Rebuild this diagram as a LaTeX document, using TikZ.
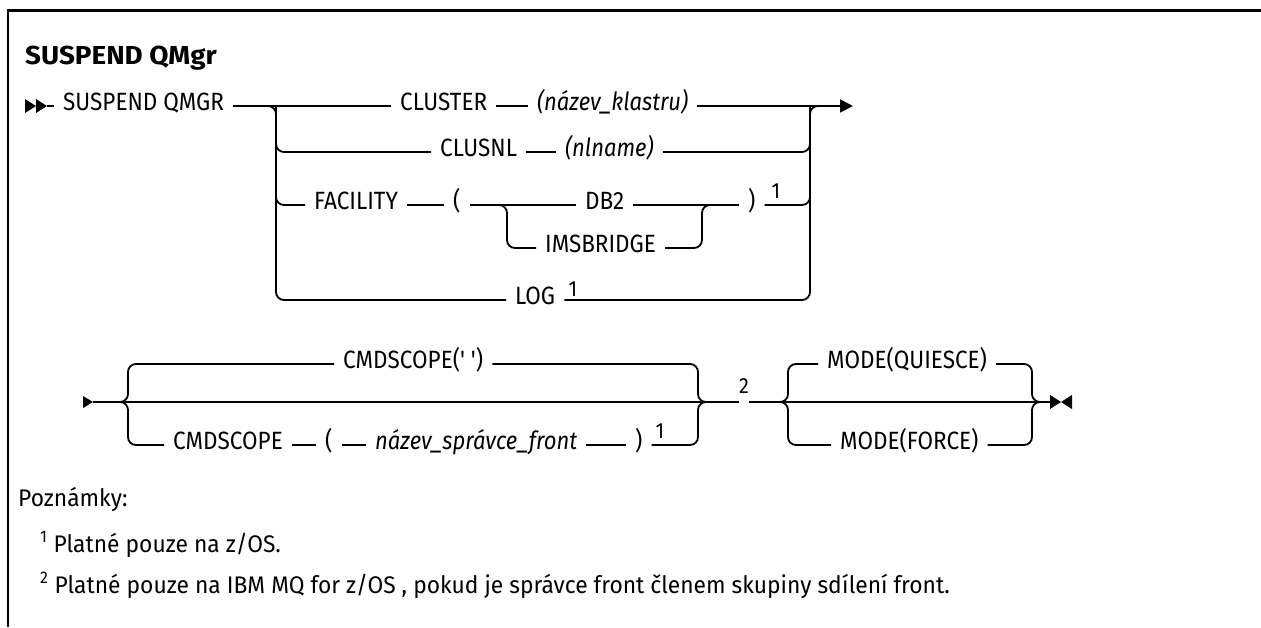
\documentclass[tikz,border=0pt]{standalone}
\usepackage{fontspec}
\setmainfont{Fira Sans}
\newfontfamily\rrfont{Fira Sans}[FakeStretch=0.9,Ligatures=TeXOff]
\newfontfamily\rritfont{Fira Sans}[FakeStretch=0.88,Ligatures=TeXOff]
\newfontfamily\notefont{Fira Sans}[FakeStretch=0.95]
\newfontfamily\titlefont{Fira Sans}[FakeStretch=1.07]
\usepackage{tikz}
\usetikzlibrary{arrows.meta}

\begin{document}
\begin{tikzpicture}[
  x=1pt,y=-1pt,
  rr/.style={font=\rrfont\fontsize{25}{29}\selectfont,inner xsep=9pt,inner ysep=0pt,text height=16pt,text depth=7pt,anchor=west},
  rrit/.style={rr,font=\rritfont\itshape\fontsize{25}{29}\selectfont},
  sup/.style={font=\rrfont\fontsize{22}{26}\selectfont,inner sep=0pt},
  rail/.style={line width=1.8pt,rounded corners=8pt},
  note/.style={font=\notefont\fontsize{24}{28}\selectfont,inner sep=0pt,anchor=base west}
]
\useasboundingbox (0,0) rectangle (1261,627);
\draw[line width=2.5pt] (8,627) -- (8,10.5) -- (1261,10.5);
\node[font=\titlefont\bfseries\fontsize{26}{30}\selectfont,anchor=base west,inner sep=0pt] (title) at (25,64) {SUSPEND QMgr};

% first line
\fill (25,99) -- (36,106) -- (25,113) -- cycle;
\fill (36,99) -- (47,106) -- (36,113) -- cycle;
\coordinate (r1start) at (47,106);
\coordinate (lv) at (276,106);
\coordinate (rv) at (810,106);
\coordinate (r1end) at (853,106);
\node[rr] (sq) at (54,106) {SUSPEND QMGR};
\node[rr] (cluster) at (391,106) {CLUSTER};
\node[rrit] (klastr) at (528,106) {(název\_klastru)};
\node[rr] (clusnl) at (431,152) {CLUSNL};
\node[rrit] (nlname) at (556,152) {(nlname)};
\node[rr] (facility) at (305,205) {FACILITY};
\node[rr] (lparen) at (444,205) {(};
\node[rr] (db2) at (576,205) {DB2};
\node[rr] (imsb) at (536,248) {IMSBRIDGE};
\node[rr] (rparen) at (739,205) {)};
\node[sup] (f1) at (776,191) {1};
\node[rr] (logn) at (506,300) {LOG};
\node[sup] (l1) at (573,289) {1};
\coordinate (fl) at (507,205);
\coordinate (fr) at (702,205);

\draw[rail] (r1start) -- (sq.west);
\draw[rail] (sq.east) -- (cluster.west);
\draw[rail] (cluster.east) -- (klastr.west);
\draw[rail,-{Triangle[length=13pt,width=13pt]}] (klastr.east) -- (r1end);
\draw[rail] (lv) |- (clusnl.west);
\draw[rail] (lv) |- (facility.west);
\draw[rail] ([xshift=-8pt]lv) -- (lv) |- (logn.west);
\draw[rail] (clusnl.east) -- (nlname.west);
\draw[rail] (nlname.east) -| (rv);
\draw[rail] (facility.east) -- (lparen.west);
\draw[rail] (lparen.east) -- (db2.west);
\draw[rail] ([xshift=-8pt]fl) -- (fl) |- (imsb.west);
\draw[rail] (db2.east) -- (rparen.west);
\draw[rail] (imsb.east) -| (fr) -- ([xshift=8pt]fr);
\draw[rail] (rparen.east) -| (rv);
\draw[rail] (logn.east) -| (rv) -- ([xshift=8pt]rv);

% second line
\fill (83,396) -- (93,402) -- (83,408) -- cycle;
\coordinate (r2start) at (93,402);
\coordinate (cl) at (128,402);
\coordinate (cr) at (698,402);
\coordinate (ml) at (788,402);
\coordinate (mr) at (1032,402);
\coordinate (r2end) at (1050,402);
\node[rr] (cmdq) at (334,364) {CMDSCOPE(' ')};
\node[rr] (cmdscope) at (164,445) {CMDSCOPE};
\node[rr] (lparen2) at (316,445) {(};
\node[rrit] (qmname) at (366,445) {název\_správce\_front};
\node[rr] (rparen2) at (626,445) {)};
\node[sup] (c1) at (660,431) {1};
\node[sup] (n2) at (744,386) {2};
\node[rr] (mq) at (818,364) {MODE(QUIESCE)};
\node[rr] (mf) at (831,445) {MODE(FORCE)};

\draw[rail] (r2start) -- (n2.west |- r2start);
\draw[rail] (n2.east |- r2start) -- (r2end);
\draw[rail] ([xshift=-8pt]cl) -- (cl) |- (cmdq.west);
\draw[rail] ([xshift=-8pt]cl) -- (cl) |- (cmdscope.west);
\draw[rail] (cmdscope.east) -- (lparen2.west);
\draw[rail] (lparen2.east) -- (qmname.west);
\draw[rail] (qmname.east) -- (rparen2.west);
\draw[rail] (cmdq.east) -| (cr) -- ([xshift=8pt]cr);
\draw[rail] (rparen2.east) -| (cr) -- ([xshift=8pt]cr);
\draw[rail] ([xshift=-8pt]ml) -- (ml) |- (mq.west);
\draw[rail] ([xshift=-8pt]ml) -- (ml) |- (mf.west);
\draw[rail] (mq.east) -| (mr) -- ([xshift=8pt]mr);
\draw[rail] (mf.east) -| (mr) -- ([xshift=8pt]mr);
\fill (1050,395) -- (1061,402) -- (1050,409) -- cycle;
\fill (1072,395) -- (1061,402) -- (1072,409) -- cycle;

% notes
\node[note] (poz) at (18,506) {Poznámky:};
\node[note] (note1) at (40,552) {\textsuperscript{1} Platné pouze na z/OS.};
\node[note] (note2) at (40,593) {\textsuperscript{2} Platné pouze na IBM MQ for z/OS , pokud je správce front členem skupiny sdílení front.};
\end{tikzpicture}
\end{document}
